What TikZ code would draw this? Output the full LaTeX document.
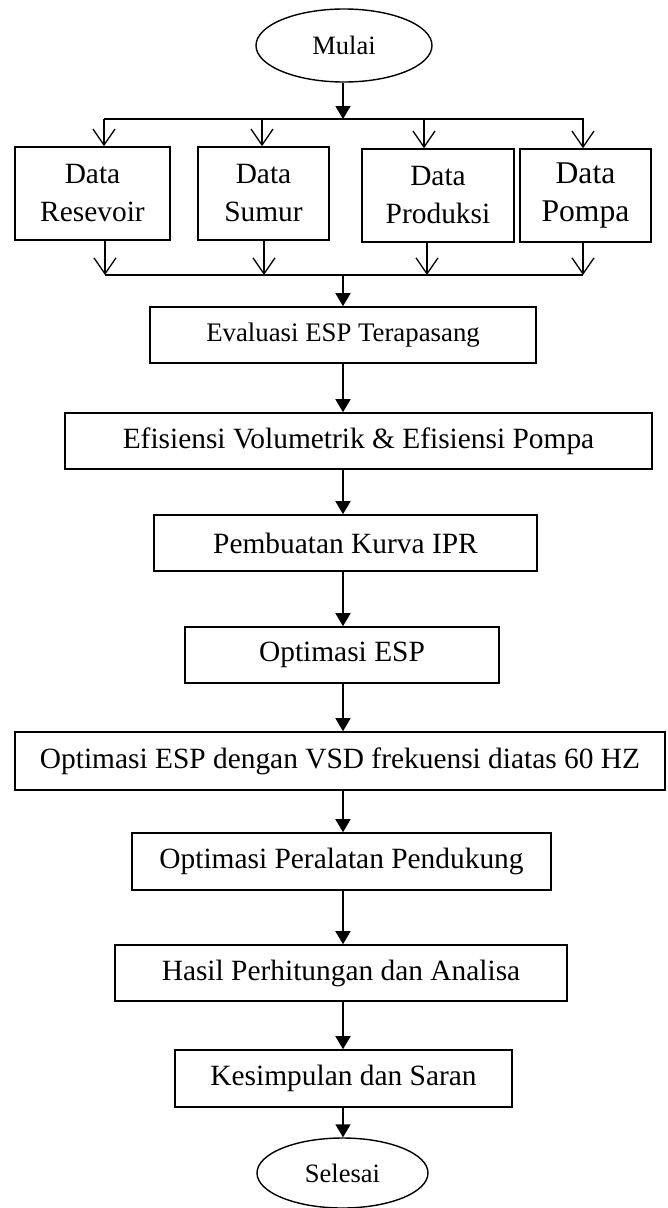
\documentclass[tikz,border=0pt]{standalone}
\usepackage{fontspec}
\setmainfont{Liberation Serif}
\usetikzlibrary{arrows.meta,shapes.geometric}
\begin{document}
\begin{tikzpicture}[x=1pt,y=-1pt,
  box/.style={draw,line width=1.6pt,rectangle,inner sep=0pt,align=center,
    font=\fontsize{29.4}{38}\selectfont},
  term/.style={draw,line width=1.4pt,ellipse,inner sep=0pt,
    font=\fontsize{26.5}{30}\selectfont},
  arr/.style={line width=1.5pt,-{Triangle[length=13pt,width=15pt]}},
  varr/.style={line width=1.3pt,-{Straight Barb[length=16pt,width=22pt,line width=1.3pt]}},
  ln/.style={line width=1.5pt}]
\useasboundingbox (0,0) rectangle (667,1208);
\coordinate (axis) at (343,0);
% start
\node[term,minimum width=176pt,minimum height=73pt] (mulai) at (344,45.5) {Mulai};
% data boxes
\node[box,minimum width=155pt,minimum height=93pt] (res) at (92.5,193.5) {Data\\Resevoir};
\node[box,minimum width=131pt,minimum height=93pt] (sum) at (263.5,193.5) {Data\\Sumur};
\node[box,minimum width=152pt,minimum height=93pt] (pro) at (438,195.5) {Data\\Produksi};
\node[box,minimum width=131pt,minimum height=93pt,font=\fontsize{31.6}{38}\selectfont] (pom) at (585.5,195.5) {Data\\Pompa};
% junction coordinates
\coordinate (tj) at (343,119);
\coordinate (tL) at (104,119);
\coordinate (tR) at (584,119);
\coordinate (t1) at (104,119);
\coordinate (t2) at (262,119);
\coordinate (t3) at (424,119);
\coordinate (t4) at (583,119);
\coordinate (bj) at (343,275);
\coordinate (bL) at (105,275);
\coordinate (bR) at (583,275);
\coordinate (b1) at (105,275);
\coordinate (b2) at (264,275);
\coordinate (b3) at (427,275);
\coordinate (b4) at (583,275);
% process boxes
\node[box,minimum width=386pt,minimum height=56pt,font=\fontsize{26.8}{30}\selectfont] (eva) at (343,335) {Evaluasi ESP Terapasang};
\node[box,minimum width=587pt,minimum height=56pt] (efi) at (358.5,441) {Efisiensi Volumetrik \& Efisiensi Pompa};
\node[box,minimum width=383pt,minimum height=56pt] (pem) at (345.5,543) {Pembuatan Kurva IPR};
\node[box,minimum width=314pt,minimum height=56pt] (opt) at (342,655) {Optimasi ESP};
\node[box,minimum width=650pt,minimum height=58pt] (vsd) at (340,761) {Optimasi ESP dengan VSD frekuensi diatas 60 HZ};
\node[box,minimum width=419pt,minimum height=57pt] (per) at (341.5,861.5) {Optimasi Peralatan Pendukung};
\node[box,minimum width=452pt,minimum height=56pt] (has) at (341,973) {Hasil Perhitungan dan Analisa};
\node[box,minimum width=337pt,minimum height=57pt] (kes) at (343.5,1078.5) {Kesimpulan dan Saran};
\node[term,minimum width=171pt,minimum height=70pt] (sel) at (342.5,1173) {Selesai};
% connectors top
\draw[arr] (mulai.south -| axis) -- (tj);
\draw[ln] (tL) -- (tR);
\draw[varr] (t1) -- (t1 |- res.north);
\draw[varr] (t2) -- (t2 |- sum.north);
\draw[varr] (t3) -- (t3 |- pro.north);
\draw[varr] (t4) -- (t4 |- pom.north);
% connectors bottom
\draw[varr] (b1 |- res.south) -- (b1);
\draw[varr] (b2 |- sum.south) -- (b2);
\draw[varr] (b3 |- pro.south) -- (b3);
\draw[varr] (b4 |- pom.south) -- (b4);
\draw[ln] (bL) -- (bR);
\draw[arr] (bj) -- (eva.north -| axis);
% main chain
\draw[arr] (eva.south -| axis) -- (efi.north -| axis);
\draw[arr] (efi.south -| axis) -- (pem.north -| axis);
\draw[arr] (pem.south -| axis) -- (opt.north -| axis);
\draw[arr] (opt.south -| axis) -- (vsd.north -| axis);
\draw[arr] (vsd.south -| axis) -- (per.north -| axis);
\draw[arr] (per.south -| axis) -- (has.north -| axis);
\draw[arr] (has.south -| axis) -- (kes.north -| axis);
\draw[arr] (kes.south -| axis) -- (sel.north -| axis);
\end{tikzpicture}
\end{document}
